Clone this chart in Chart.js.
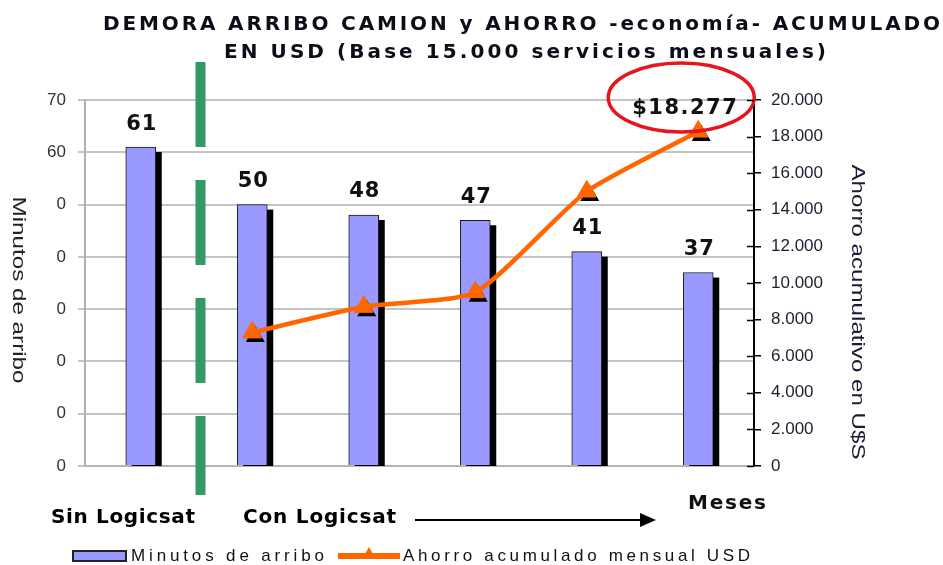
<!DOCTYPE html>
<html><head><meta charset="utf-8">
<script src="https://cdn.jsdelivr.net/npm/chart.js@4/dist/chart.umd.min.js"></script>
<style>html,body{margin:0;padding:0;background:#fff;overflow:hidden}#wrap{width:943px;height:565px}</style>
</head><body><div id="wrap"><canvas id="c" width="943" height="565"></canvas></div>
<script>
// ---- data ----
const categories = ['Sin Logicsat', 'Mes 1', 'Mes 2', 'Mes 3', 'Mes 4', 'Mes 5'];
const minutosArribo = [61, 50, 48, 47, 41, 37];
const ahorroAcumulado = [null, 7300, 8700, 9500, 15000, 18277];
const minutosTickLabels = ['0', '0', '0', '0', '0', '0', '60', '70'];
const ahorroTickLabels = ['0', '2.000', '4.000', '6.000', '8.000', '10.000', '12.000', '14.000', '16.000', '18.000', '20.000'];
const titleLines = ['DEMORA ARRIBO CAMION y AHORRO -economía- ACUMULADO', 'EN USD (Base 15.000 servicios mensuales)'];
const highlightText = '$18.277';
const leftAxisTitle = 'Minutos de arribo';
const rightAxisTitle = 'Ahorro acumulativo en U$S';
const phaseLabels = ['Sin Logicsat', 'Con Logicsat'];
const timeLabel = 'Meses';

// ---- helpers ----
function fitText(ctx, text, x, y, width, font, color, rot) {
  ctx.save();
  ctx.font = font; ctx.fillStyle = color; ctx.textAlign = 'center'; ctx.textBaseline = 'middle';
  const w = ctx.measureText(text).width;
  ctx.translate(x, y); ctx.rotate(rot || 0); ctx.scale(width / w, 1);
  ctx.fillText(text, 0, 0);
  ctx.restore();
}
function spacedText(ctx, text, x, y, width, font, color) {
  ctx.save();
  ctx.font = font; ctx.fillStyle = color; ctx.textAlign = 'left'; ctx.textBaseline = 'middle';
  const w = ctx.measureText(text).width;
  if ('letterSpacing' in ctx) {
    ctx.letterSpacing = ((width - w) / (text.length - 1)) + 'px';
    ctx.fillText(text, x, y);
  } else {
    ctx.translate(x, y); ctx.scale(width / w, 1); ctx.fillText(text, 0, 0);
  }
  ctx.restore();
}
function tri(ctx, x, y, r) {
  const a = 2 * Math.PI / 3;
  ctx.beginPath();
  ctx.moveTo(x, y - r);
  ctx.lineTo(x + Math.sin(a) * r, y - Math.cos(a) * r);
  ctx.lineTo(x + Math.sin(2 * a) * r, y - Math.cos(2 * a) * r);
  ctx.closePath();
  ctx.fill();
}

const ORANGE = '#FF6600';
const BARFILL = '#9999FF';
const TITLEFONT = 'bold 20px "DejaVu Sans"';
const PHASEFONT = 'bold 20px "DejaVu Sans"';
const LEGENDFONT = '17px "Liberation Sans Narrow", "Liberation Sans"';

const decorPlugin = {
  id: 'decor',
  beforeDraw(chart) {
    const ctx = chart.ctx;
    ctx.save(); ctx.fillStyle = '#fff'; ctx.fillRect(0, 0, chart.width, chart.height); ctx.restore();
  },
  beforeDatasetDraw(chart, args) {
    const ctx = chart.ctx, area = chart.chartArea;
    const ds = chart.data.datasets[args.index];
    if (ds.type === 'bar') {
      ctx.save();
      ctx.beginPath(); ctx.rect(area.left, area.top, area.right - area.left, area.bottom - area.top); ctx.clip();
      ctx.fillStyle = '#000';
      args.meta.data.forEach(el => {
        const p = el.getProps(['x', 'y', 'base', 'width'], true);
        ctx.fillRect(p.x - p.width / 2 + 6, p.y + 5, p.width, p.base - p.y);
      });
      ctx.restore();
    } else if (ds.type === 'line') {
      ctx.save(); ctx.fillStyle = '#000';
      args.meta.data.forEach((el, i) => {
        if (ds.data[i] == null) return;
        tri(ctx, el.x + 3, el.y + 4, ds.pointRadius);
      });
      ctx.restore();
    }
  },
  afterDatasetsDraw(chart) {
    const ctx = chart.ctx, area = chart.chartArea;
    const x = chart.scales.x;
    // bar value labels
    const barMeta = chart.getDatasetMeta(1);
    ctx.save();
    ctx.font = 'bold 21px "DejaVu Sans"'; ctx.fillStyle = '#111'; ctx.textAlign = 'center'; ctx.textBaseline = 'middle';
    if ('letterSpacing' in ctx) ctx.letterSpacing = '1px';
    barMeta.data.forEach((el, i) => { ctx.fillText(String(minutosArribo[i]), el.x + 1, el.y - 23); });
    ctx.restore();
    // highlight last savings point
    const lineMeta = chart.getDatasetMeta(0);
    const last = lineMeta.data[lineMeta.data.length - 1];
    ctx.save();
    ctx.font = 'bold 21px "DejaVu Sans"'; ctx.fillStyle = '#111'; ctx.textAlign = 'center'; ctx.textBaseline = 'middle';
    if ('letterSpacing' in ctx) ctx.letterSpacing = '1.5px';
    ctx.fillText(highlightText, last.x - 13, last.y - 23);
    ctx.strokeStyle = '#E8161C'; ctx.lineWidth = 3.5;
    ctx.beginPath(); ctx.ellipse(last.x - 17, last.y - 34, 73, 34.5, 0, 0, Math.PI * 2); ctx.stroke();
    ctx.restore();
    // green dashed separator between "sin" and "con"
    const sep = (x.getPixelForValue(0) + x.getPixelForValue(1)) / 2 + 4;
    ctx.save();
    ctx.strokeStyle = '#339966'; ctx.lineWidth = 10; ctx.setLineDash([85, 33]);
    ctx.beginPath(); ctx.moveTo(sep, area.top - 38); ctx.lineTo(sep, area.bottom + 29); ctx.stroke();
    ctx.restore();
  },
  afterDraw(chart) {
    const ctx = chart.ctx, area = chart.chartArea;
    // title
    spacedText(ctx, titleLines[0], 103, 25, 837, TITLEFONT, '#0d0d1a');
    spacedText(ctx, titleLines[1], 224, 53, 602, TITLEFONT, '#0d0d1a');
    // axis titles (both read top to bottom)
    fitText(ctx, leftAxisTitle, 18, 290, 187, '18px "Liberation Sans"', '#222', Math.PI / 2);
    fitText(ctx, rightAxisTitle, 857, 312, 295, '18px "Liberation Sans"', '#1a1a33', Math.PI / 2);
    // inner part of right axis ticks
    const yR = chart.scales.yR;
    ctx.save(); ctx.strokeStyle = '#000'; ctx.lineWidth = 1.5;
    yR.ticks.forEach(t => {
      const py = Math.round(yR.getPixelForValue(t.value)) + 0.5;
      ctx.beginPath(); ctx.moveTo(area.right - 7, py); ctx.lineTo(area.right, py); ctx.stroke();
    });
    ctx.restore();
    // phase labels and arrow
    spacedText(ctx, phaseLabels[0], 51, 518, 144, PHASEFONT, '#000');
    spacedText(ctx, phaseLabels[1], 243, 518, 153, PHASEFONT, '#000');
    spacedText(ctx, timeLabel, 688, 504, 78, PHASEFONT, '#111');
    ctx.save();
    ctx.strokeStyle = '#000'; ctx.fillStyle = '#000'; ctx.lineWidth = 2;
    ctx.beginPath(); ctx.moveTo(415, 520); ctx.lineTo(643, 520); ctx.stroke();
    ctx.beginPath(); ctx.moveTo(640, 513); ctx.lineTo(656, 520); ctx.lineTo(640, 527); ctx.closePath(); ctx.fill();
    ctx.restore();
    // legend
    const dsBar = chart.data.datasets[1], dsLine = chart.data.datasets[0];
    const ly = 556;
    ctx.save();
    ctx.fillStyle = BARFILL; ctx.strokeStyle = '#222'; ctx.lineWidth = 2;
    ctx.fillRect(73, ly - 5, 53, 10); ctx.strokeRect(73, ly - 5, 53, 10);
    ctx.restore();
    spacedText(ctx, dsBar.label, 131, ly, 193, LEGENDFONT, '#111');
    ctx.save();
    ctx.strokeStyle = ORANGE; ctx.lineWidth = 6;
    ctx.beginPath(); ctx.moveTo(338, ly); ctx.lineTo(400, ly); ctx.stroke();
    ctx.fillStyle = ORANGE; tri(ctx, 369, ly - 1, 8);
    ctx.restore();
    spacedText(ctx, dsLine.label, 403, ly, 347, LEGENDFONT, '#111');
  }
};

new Chart(document.getElementById('c'), {
  type: 'bar',
  data: {
    labels: categories,
    datasets: [
      {
        type: 'line', label: 'Ahorro acumulado mensual USD', data: ahorroAcumulado, yAxisID: 'yR',
        borderColor: ORANGE, backgroundColor: ORANGE, borderWidth: 4.5, tension: 0.2,
        pointStyle: 'triangle', pointRadius: 11, pointBorderWidth: 1, pointBorderColor: ORANGE,
        pointBackgroundColor: ORANGE, order: 0
      },
      {
        type: 'bar', label: 'Minutos de arribo', data: minutosArribo, yAxisID: 'yL',
        backgroundColor: BARFILL, borderColor: '#1a1a1a', borderWidth: 1, barThickness: 30,
        clip: 0, order: 1
      }
    ]
  },
  options: {
    responsive: false, animation: false, devicePixelRatio: 1,
    layout: { padding: { top: 100, left: 0, right: 0, bottom: 0 } },
    plugins: { legend: { display: false }, title: { display: false }, tooltip: { enabled: false } },
    scales: {
      x: {
        offset: true,
        grid: { display: false },
        border: { display: true, color: '#b4b4b4', width: 2 },
        ticks: { display: false },
        afterFit(s) { s.height = 99; }
      },
      yL: {
        position: 'left', min: 0, max: 70,
        ticks: { stepSize: 10, callback: (v, i) => minutosTickLabels[i], color: '#333', font: { family: 'Liberation Sans', size: 17 }, padding: 12 },
        grid: { color: '#c4c4c4', lineWidth: 2, tickLength: 7 },
        border: { color: '#b0b0b0', width: 2 },
        afterFit(s) { s.width = 85; }
      },
      yR: {
        position: 'right', min: 0, max: 20000,
        ticks: { stepSize: 2000, callback: (v, i) => ahorroTickLabels[i], color: '#1e1e30', font: { family: 'Liberation Sans', size: 17 }, padding: 10 },
        grid: { drawOnChartArea: false, color: '#000', lineWidth: 1.5, tickLength: 7 },
        border: { color: '#000', width: 2 },
        afterFit(s) { s.width = 189; }
      }
    }
  },
  plugins: [decorPlugin]
});
</script>
</body></html>
